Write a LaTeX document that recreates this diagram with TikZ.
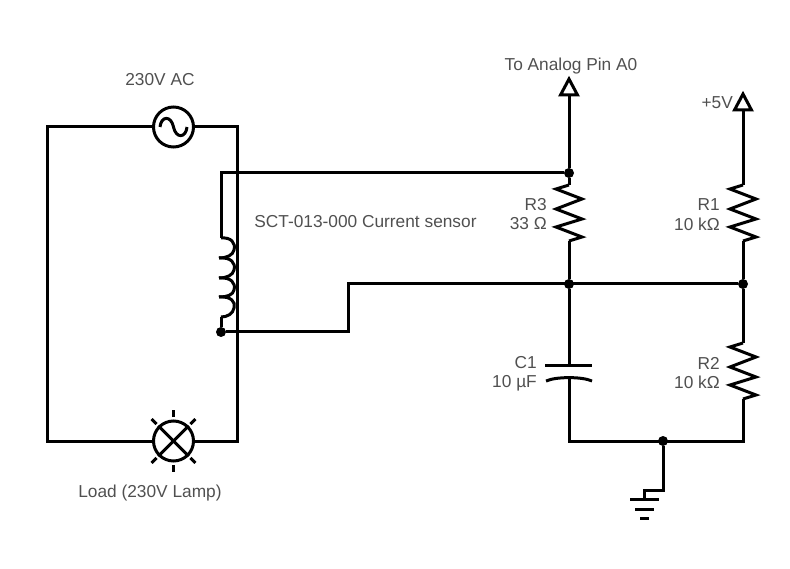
\documentclass[tikz,border=0pt]{standalone}
\usepackage{fontspec}
\setmainfont{Liberation Sans}
\usetikzlibrary{calc}

\definecolor{labelgray}{HTML}{505050}

\tikzset{
  wire/.style={line width=3pt, line cap=butt, line join=miter},
  lbl/.style={text=labelgray, font=\fontsize{17.3}{19}\selectfont, inner sep=0pt},
  symb/.style={wire, draw, circle, minimum size=40pt, inner sep=0pt, fill=white},
  dot/.style={circle, fill=black, minimum size=10pt, inner sep=0pt},
  rail/.style={wire, draw, fill=white, line join=miter}
}

% zigzag going down from a named coordinate, 56 long
\newcommand{\zigzag}[1]{
  \draw[wire, line join=miter] (#1) -- ++(-13,4) -- ++(26,10) -- ++(-26,10) -- ++(26,10)
    -- ++(-26,8) -- ++(26,10) -- ++(-13,4);
}

\begin{document}
\begin{tikzpicture}[x=1pt, y=-1pt]

  \useasboundingbox (0,0) rectangle (790,569);

  % mains loop
  \node[symb] (src) at (173.5,127) {};
  \node[symb] (lamp) at (173.5,441) {};
  \coordinate (tl) at (47,127);
  \coordinate (bl) at (47,441);
  \coordinate (tr) at (237,127);
  \coordinate (br) at (237,441);
  \draw[wire] (src.west) -- (tl) -- (bl) -- (lamp.west);
  \draw[wire] (src.east) -- (tr) -- (br) -- (lamp.east);

  % source wave
  \draw[wire] (160,127) .. controls (161,116) and (171,115) .. (173.5,127)
    .. controls (176,139) and (186,138) .. (187,127);

  % lamp cross and rays
  \draw[wire] (lamp.45) -- (lamp.225);
  \draw[wire] (lamp.135) -- (lamp.315);
  \foreach \a in {45,90,135,225,270,315} {
    \draw[wire] ($(lamp)+(\a:24)$) -- ($(lamp)+(\a:31)$);
  }

  % current sensor coil
  \node[dot] (jcoil) at (221,332) {};
  \node[dot] (jtop) at (569,173) {};
  \coordinate (coiltop) at (221,173);
  \coordinate (coilin) at (221,238);
  \coordinate (coilout) at (221,317);
  \draw[wire] (jtop) -- (coiltop) -- (coilin);
  \draw[wire] (coilin) .. controls (231,237) and (236,243) .. (234,250)
    .. controls (233,255) and (227,258) .. (219,258);
  \draw[wire] (219,258) .. controls (231,257) and (236,263) .. (234,270)
    .. controls (233,275) and (227,278) .. (219,278);
  \draw[wire] (219,278) .. controls (231,277) and (236,283) .. (234,290)
    .. controls (233,295) and (227,297) .. (219,297);
  \draw[wire] (219,297) .. controls (231,296) and (236,302) .. (234,308)
    .. controls (233,314) and (227,317) .. (coilout);
  \draw[wire] (coilout) -- (jcoil);

  \node[dot] (jmid) at (569,284) {};
  \node[dot] (jright) at (743,284) {};
  \coordinate (step1) at (348,332);
  \coordinate (step2) at (348,284);
  \draw[wire] (jcoil) -- (step1) -- (step2) -- (jright);

  % R3 and output
  \coordinate (r3top) at (569,185);
  \coordinate (r3bot) at (569,241);
  \coordinate (pinA) at (569,95);
  \draw[wire] (pinA) -- (jtop) -- (r3top);
  \zigzag{r3top}
  \draw[wire] (r3bot) -- (jmid);
  \draw[rail] (pinA) -- ++(-8.5,0) -- ++(8.5,-16) -- ++(8.5,16) -- cycle;

  % R1 and +5V
  \coordinate (r1top) at (743,185);
  \coordinate (r1bot) at (743,241);
  \coordinate (pinV) at (743,110);
  \draw[wire] (pinV) -- (r1top);
  \zigzag{r1top}
  \draw[wire] (r1bot) -- (jright);
  \draw[rail] (pinV) -- ++(-8.5,0) -- ++(8.5,-16) -- ++(8.5,16) -- cycle;

  % R2
  \coordinate (r2top) at (743,343);
  \coordinate (r2bot) at (743,399);
  \draw[wire] (jright) -- (r2top);
  \zigzag{r2top}

  % C1
  \coordinate (c1top) at (569,365);
  \coordinate (c1bot) at (569,377);
  \coordinate (gndl) at (569,441);
  \coordinate (gndr) at (743,441);
  \node[dot] (jgnd) at (663,441) {};
  \draw[wire] (jmid) -- (c1top);
  \draw[wire] (545,365) -- (592,365);
  \draw[wire] (546,381) .. controls (556,376.5) and (582,376.5) .. (592,381);
  \draw[wire] (c1bot) -- (gndl) -- (gndr) -- (r2bot);

  % ground
  \coordinate (g1) at (663,490);
  \coordinate (g2) at (644.5,490);
  \coordinate (g3) at (644.5,499);
  \draw[wire] (jgnd) -- (g1) -- (g2) -- (g3);
  \draw[wire] (630,499) -- (659,499);
  \draw[wire] (635,509) -- (654,509);
  \draw[wire] (640,518) -- (649,518);

  % labels
  \node[lbl] (tsrc) at (160,80) {230V AC};
  \node[lbl] (tload) at (150,493) {Load (230V Lamp)};
  \node[lbl] (tsens) at (365.5,222) {SCT-013-000 Current sensor};
  \node[lbl] (tpin) at (571,66) {To Analog Pin A0};
  \node[lbl, anchor=east] (tvcc) at (733,103) {+5V};
  \node[lbl, anchor=east] (tr3) at (547,205) {R3};
  \node[lbl, anchor=east] (vr3) at (547,224) {33 Ω};
  \node[lbl, anchor=east] (tr1) at (720,205) {R1};
  \node[lbl, anchor=east] (vr1) at (720,224) {10 kΩ};
  \node[lbl, anchor=east] (tc1) at (537,363) {C1};
  \node[lbl, anchor=east] (vc1) at (537,383) {10 µF};
  \node[lbl, anchor=east] (tr2) at (720,363) {R2};
  \node[lbl, anchor=east] (vr2) at (720,382) {10 kΩ};

\end{tikzpicture}
\end{document}
